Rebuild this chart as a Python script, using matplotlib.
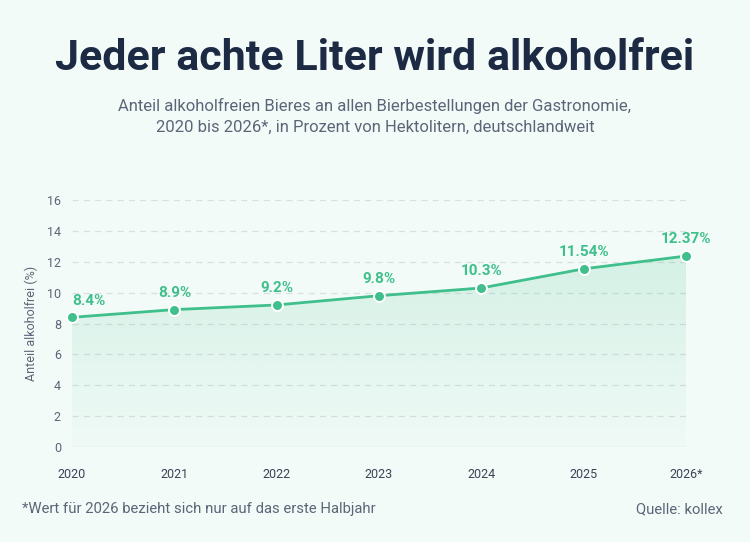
import matplotlib
matplotlib.use("Agg")
import matplotlib.pyplot as plt
import numpy as np
from matplotlib.patches import Polygon

years = ["2020", "2021", "2022", "2023", "2024", "2025", "2026*"]
values = [8.4, 8.9, 9.2, 9.8, 10.3, 11.54, 12.37]
labels = ["8.4%", "8.9%", "9.2%", "9.8%", "10.3%", "11.54%", "12.37%"]
yticks = [0, 2, 4, 6, 8, 10, 12, 14, 16]

BG = "#f3fbf8"
GREEN = "#3fbf8c"
DARK = "#1c2a44"
GREY = "#5b6578"

plt.rcParams['font.family'] = ['Roboto', 'DejaVu Sans']

fig = plt.figure(figsize=(7.5, 5.42), dpi=100, facecolor=BG)
W, H = 750, 542
left, right, top, bottom = 72, 686, 200, 447
ax = fig.add_axes([left / W, 1 - bottom / H, (right - left) / W, (bottom - top) / H])
ax.set_facecolor(BG)

x = np.arange(len(values))
ax.set_xlim(0, len(values) - 1)
ax.set_ylim(0, 16)

for t in yticks[1:]:
    ax.axhline(t, color="#d9e0dd", lw=0.9, ls=(0, (5, 4)), zorder=1)
ax.axhline(0, color="#d9dedc", lw=1.0, zorder=1)

# gradient fill
verts = [(x[0], 0)] + list(zip(x, values)) + [(x[-1], 0)]
poly = Polygon(verts, closed=True, facecolor="none", edgecolor="none")
ax.add_patch(poly)
grad = np.linspace(0.02, 0.17, 256).reshape(-1, 1)
rgba = np.zeros((256, 1, 4))
c = matplotlib.colors.to_rgb(GREEN)
rgba[..., 0], rgba[..., 1], rgba[..., 2] = c
rgba[..., 3] = grad
im = ax.imshow(rgba, extent=[x[0], x[-1], 0, max(values)], origin="lower",
               aspect="auto", zorder=2)
im.set_clip_path(poly)

ax.plot(x, values, color=GREEN, lw=2, zorder=3)
ax.scatter(x, values, s=62, color=GREEN, edgecolor="white", linewidth=1.4, zorder=4, clip_on=False)

for xi, v, lab in zip(x, values, labels):
    ax.annotate(lab, (xi, v), xytext=(0, 7), textcoords="offset points",
                ha="left" if xi == 0 else "center", va="bottom",
                fontsize=11, fontweight="bold", color=GREEN, zorder=5)

ax.set_yticks(yticks)
ax.set_yticklabels([str(t) for t in yticks])
ax.set_xticks(x)
ax.set_xticklabels(years)
ax.tick_params(axis="y", length=0, pad=8, labelsize=9, labelcolor=GREY)
ax.tick_params(axis="x", length=0, pad=15, labelsize=9, labelcolor="#3a4356")
for s in ax.spines.values():
    s.set_visible(False)
ax.set_ylabel("Anteil alkoholfrei (%)", fontsize=9, color=GREY, labelpad=6)

fig.text(0.5, 1 - 58 / H, "Jeder achte Liter wird alkoholfrei", ha="center", va="center",
         fontsize=31, fontweight="bold", color=DARK)
fig.text(0.5, 1 - 116 / H,
         "Anteil alkoholfreien Bieres an allen Bierbestellungen der Gastronomie,\n2020 bis 2026*, in Prozent von Hektolitern, deutschlandweit",
         ha="center", va="center", fontsize=12, color=GREY, linespacing=1.5)
fig.text(22 / W, 1 - 509 / H, "*Wert für 2026 bezieht sich nur auf das erste Halbjahr",
         ha="left", va="center", fontsize=10.7, color=GREY)
fig.text(723 / W, 1 - 509 / H, "Quelle: kollex", ha="right", va="center", fontsize=10.7, color=GREY)

fig.savefig("out.png", dpi=100, facecolor=BG)
